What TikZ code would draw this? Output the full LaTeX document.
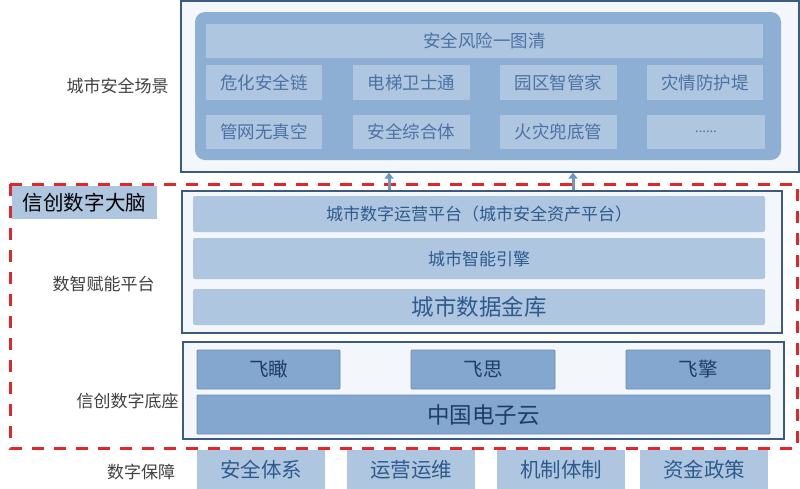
\documentclass[tikz,border=0pt]{standalone}
\usepackage{fontspec}
\setmainfont{Noto Sans CJK SC}
\usetikzlibrary{arrows.meta}
\definecolor{framefill}{HTML}{F3F6FA}
\definecolor{framedraw}{HTML}{3B5B82}
\definecolor{scenefill}{HTML}{8EAFD4}
\definecolor{tilefill}{HTML}{AFC6E1}
\definecolor{tiletext}{HTML}{4A72A3}
\definecolor{bartext}{HTML}{2E5A8C}
\definecolor{basefill}{HTML}{84A7CF}
\definecolor{basedraw}{HTML}{6A8CB5}
\definecolor{basetext}{HTML}{1F3D66}
\definecolor{labeltext}{HTML}{404040}
\definecolor{brainred}{HTML}{E3262A}
\definecolor{arrowblue}{HTML}{6F95C4}
\begin{document}
\begin{tikzpicture}[x=1pt, y=-1pt, >={Triangle[width=9pt, length=6pt]},
    frame/.style={draw=framedraw, line width=1.2pt, fill=framefill, inner sep=0pt},
    tile/.style={fill=tilefill, text=tiletext, inner sep=0pt, font=\fontsize{17.5}{20}\selectfont},
    bar/.style={fill=tilefill, text=bartext, inner sep=0pt, rounded corners=2pt},
    basebox/.style={fill=basefill, draw=basedraw, line width=0.8pt, text=basetext, inner sep=0pt, rounded corners=1pt},
    layerlabel/.style={text=labeltext, font=\fontsize{17}{20}\selectfont}]
  \useasboundingbox (0, 0) rectangle (800, 488);

  % city safety scenes
  \node[frame, minimum width=618, minimum height=171] (scene) at (490, 86.5) {};
  \node[fill=scenefill, rounded corners=10pt, minimum width=586, minimum height=148] (scenebg) at (488, 86) {};
  \node[tile, minimum width=557, minimum height=34] (riskmap) at (484.5, 41) {安全风险一图清};
  \node[tile, minimum width=116, minimum height=35] (hazchem) at (264, 82.5) {危化安全链};
  \node[tile, minimum width=117, minimum height=35] (elevator) at (411.5, 82.5) {电梯卫士通};
  \node[tile, minimum width=117, minimum height=35] (park) at (558.5, 82.5) {园区智管家};
  \node[tile, minimum width=116, minimum height=35] (disaster) at (705, 82.5) {灾情防护堤};
  \node[tile, minimum width=116, minimum height=34] (pipenet) at (264, 132) {管网无真空};
  \node[tile, minimum width=117, minimum height=34] (safety) at (411.5, 132) {安全综合体};
  \node[tile, minimum width=117, minimum height=34] (fire) at (558.5, 132) {火灾兜底管};
  \node[tile, minimum width=118, minimum height=34] (more) at (706, 132) {\fontsize{13}{15}\selectfont ......};
  \node[layerlabel] (scenelabel) at (117.5, 86) {城市安全场景};

  % digital brain
  \draw[brainred, line width=3pt, dash pattern=on 12pt off 10pt] (10, 184) rectangle (797, 448);
  \node[fill=tilefill, minimum width=145, minimum height=33, inner sep=0pt,
        font=\fontsize{20.5}{22}\selectfont] (brain) at (84.5, 202.5) {信创数字大脑};

  % enabling platform
  \node[frame, minimum width=600, minimum height=142] (plat) at (482, 262) {};
  \node[bar, minimum width=572, minimum height=36, font=\fontsize{17}{19}\selectfont] (ops) at (479, 214) {城市数字运营平台（城市安全资产平台）};
  \node[bar, minimum width=572, minimum height=41, font=\fontsize{17}{19}\selectfont] (engine) at (479, 258.5) {城市智能引擎};
  \node[bar, minimum width=572, minimum height=36, font=\fontsize{22.5}{24}\selectfont] (vault) at (479, 307) {城市数据金库};
  \node[layerlabel] (platlabel) at (103.5, 284) {数智赋能平台};

  \draw[->, line width=3pt, arrowblue] (plat.north -| 389, 0) -- (scene.south -| 389, 0);
  \draw[->, line width=3pt, arrowblue] (plat.north -| 573, 0) -- (scene.south -| 573, 0);

  % digital base
  \node[frame, minimum width=601, minimum height=97] (base) at (483.5, 390.5) {};
  \node[basebox, minimum width=143, minimum height=39, font=\fontsize{19.5}{21}\selectfont] (feikan) at (268.5, 369.5) {飞瞰};
  \node[basebox, minimum width=144, minimum height=39, font=\fontsize{19.5}{21}\selectfont] (feisi) at (483, 369.5) {飞思};
  \node[basebox, minimum width=144, minimum height=39, font=\fontsize{19.5}{21}\selectfont] (feiqing) at (698, 369.5) {飞擎};
  \node[basebox, minimum width=573, minimum height=39, font=\fontsize{22.5}{24}\selectfont] (cloud) at (483.5, 414.5) {中国电子云};
  \node[layerlabel] (baselabel) at (127.5, 401) {信创数字底座};

  % guarantees
  \node[tile, minimum width=128, minimum height=40, text=bartext, font=\fontsize{20.5}{22}\selectfont] (secsys) at (261, 470) {安全体系};
  \node[tile, minimum width=128, minimum height=40, text=bartext, font=\fontsize{20.5}{22}\selectfont] (opsmaint) at (411, 470) {运营运维};
  \node[tile, minimum width=128, minimum height=40, text=bartext, font=\fontsize{20.5}{22}\selectfont] (mech) at (561, 470) {机制体制};
  \node[tile, minimum width=128, minimum height=40, text=bartext, font=\fontsize{20.5}{22}\selectfont] (funds) at (704, 470) {资金政策};
  \node[layerlabel] (guardlabel) at (141, 472) {数字保障};
\end{tikzpicture}
\end{document}
